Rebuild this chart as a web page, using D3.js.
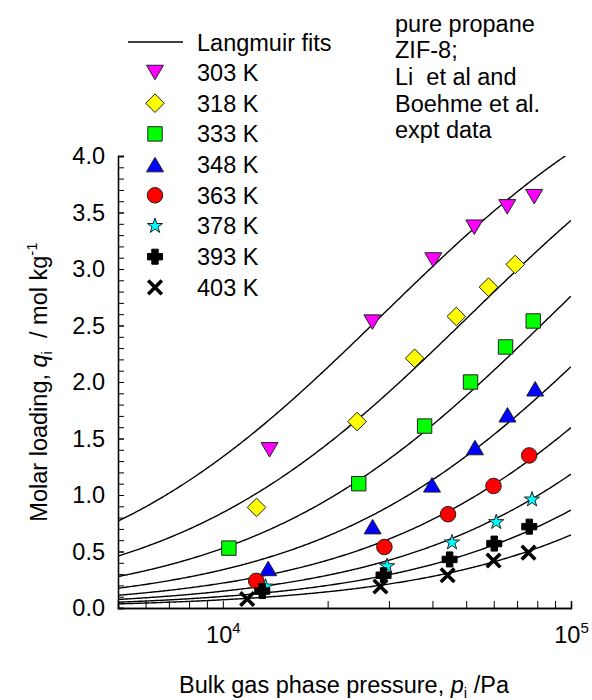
<!DOCTYPE html>
<html>
<head>
<meta charset="utf-8">
<script src="https://cdn.jsdelivr.net/npm/d3@7"></script>
<style>
  html, body { margin: 0; padding: 0; background: #fff; }
  svg { display: block; font-family: "Liberation Sans", Arial, Helvetica, sans-serif; }
</style>
</head>
<body>
<svg id="chart" width="592" height="700"></svg>
<script>
// Propane in ZIF-8: measured loadings (mol/kg) against bulk pressure (Pa)
const temperatures = ["303 K", "318 K", "333 K", "348 K", "363 K", "378 K", "393 K", "403 K"];

const p303 = [13620, 26890, 40230, 52770, 65600, 78400];
const q303 = [1.40, 2.53, 3.08, 3.37, 3.55, 3.64];
const p318 = [12500, 24300, 35560, 46840, 57960, 69150];
const q318 = [0.89, 1.65, 2.21, 2.58, 2.84, 3.04];
const p333 = [10410, 24570, 37980, 51460, 64870, 77900];
const q333 = [0.53, 1.10, 1.61, 2.00, 2.31, 2.54];
const p348 = [13500, 26930, 39890, 53000, 65700, 78900];
const q348 = [0.35, 0.72, 1.09, 1.42, 1.71, 1.94];
const p363 = [12470, 29110, 44340, 59900, 75850];
const q363 = [0.24, 0.54, 0.83, 1.08, 1.35];
const p378 = [13260, 29630, 45520, 61000, 77270];
const q378 = [0.19, 0.37, 0.58, 0.76, 0.96];
const p393 = [12980, 28950, 44810, 60200, 75880];
const q393 = [0.15, 0.29, 0.43, 0.57, 0.72];
const p403 = [11750, 28350, 44220, 59900, 75500];
const q403 = [0.08, 0.19, 0.29, 0.42, 0.49];

// Single-site Langmuir fit parameters, one pair per temperature
const langmuirQsat = [5.2, 5.2, 5.2, 5.2, 5.2, 5.2, 5.2, 5.2];        // mol/kg
const langmuirB = [3.465e-5, 1.938e-5, 1.131e-5, 6.97e-6, 4.43e-6, 2.95e-6, 2.0e-6, 1.42e-6]; // 1/Pa

// Marker styling per temperature
const markerShapes = ["triangleDown", "diamond", "square", "triangleUp", "circle", "star", "cross", "times"];
const markerFills = ["#ff00ff", "#ffff00", "#00ff00", "#0000ff", "#ff0000", "#00ffff", "#000000", "none"];

// Axis ticks
const yMajorTicks = [0, 0.5, 1.0, 1.5, 2.0, 2.5, 3.0, 3.5, 4.0];
const yMinorTicks = d3.range(0, 41).map(i => i / 10);
const xMajorTicks = [1e4, 1e5];
const xMinorTicks = [6000, 7000, 8000, 9000, 20000, 30000, 40000, 50000, 60000, 70000, 80000, 90000];
const xTickExponents = ["4", "5"];

const pressures = [p303, p318, p333, p348, p363, p378, p393, p403];
const loadings = [q303, q318, q333, q348, q363, q378, q393, q403];

const svg = d3.select("#chart");
const FONT = 23.5;
const SMALL = 15;

const x = d3.scaleLog().domain([5000, 1e5]).range([118, 571]);
const y = d3.scaleLinear().domain([0, 4]).range([608, 156]);

// Marker path builders, each centred on its bounding box
function markerPath(shape) {
  switch (shape) {
    case "triangleDown": { const w = 17, h = 14.5;
      return `M${-w/2},${-h/2}L${w/2},${-h/2}L0,${h/2}Z`; }
    case "triangleUp": { const w = 17, h = 14.5;
      return `M${-w/2},${h/2}L${w/2},${h/2}L0,${-h/2}Z`; }
    case "diamond": { const r = 9.3;
      return `M0,${-r}L${r},0L0,${r}L${-r},0Z`; }
    case "square": { const s = 7.2;
      return `M${-s},${-s}H${s}V${s}H${-s}Z`; }
    case "circle": return d3.symbol(d3.symbolCircle, 190)();
    case "star": return d3.symbol(d3.symbolStar, 72)();
    case "cross": { const a = 7.5, b = 3.2;
      return `M${-b},${-a}H${b}V${-b}H${a}V${b}H${b}V${a}H${-b}V${b}H${-a}V${-b}H${-b}Z`; }
    case "times": { const r = 6.8;
      return `M${-r},${-r}L${r},${r}M${-r},${r}L${r},${-r}`; }
  }
}
function styleMarker(sel, i) {
  const shape = markerShapes[i];
  if (shape === "times") {
    sel.attr("fill", "none").attr("stroke", "#000").attr("stroke-width", 3.6);
  } else if (shape === "cross") {
    sel.attr("fill", "#000").attr("stroke", "#000").attr("stroke-width", 1);
  } else {
    sel.attr("fill", markerFills[i]).attr("stroke", "#222").attr("stroke-width", 1);
  }
}

// Clip region for fitted curves
svg.append("clipPath").attr("id", "plot-clip")
  .append("rect").attr("x", 118).attr("y", 156).attr("width", 453).attr("height", 452);

// Langmuir fit curves
const pGrid = d3.range(0, 301).map(k => 5000 * Math.pow(20, k / 300));
const line = d3.line().x(d => x(d[0])).y(d => y(d[1]));
const curves = svg.append("g").attr("clip-path", "url(#plot-clip)");
temperatures.forEach((t, i) => {
  const pts = pGrid.map(p => {
    const bp = langmuirB[i] * p;
    return [p, langmuirQsat[i] * bp / (1 + bp)];
  });
  curves.append("path").attr("d", line(pts))
    .attr("fill", "none").attr("stroke", "#000").attr("stroke-width", 1.4);
});

// Axes: ticks point inward
const yAxisMinor = d3.axisLeft(y).tickValues(yMinorTicks).tickSize(-6).tickFormat("");
const yAxisMajor = d3.axisLeft(y).tickValues(yMajorTicks).tickSize(-6).tickPadding(13)
  .tickFormat(d3.format(".1f"));
const xAxisMinor = d3.axisBottom(x).tickValues(xMinorTicks).tickSize(-7).tickFormat("");
const xAxisMajor = d3.axisBottom(x).tickValues(xMajorTicks).tickSize(-7).tickFormat("");

function styleAxis(g) {
  g.selectAll("path.domain").attr("stroke", "#000").attr("stroke-width", 1.3);
  g.selectAll(".tick line").attr("stroke", "#000").attr("stroke-width", 1);
  g.selectAll("text").attr("font-size", FONT).attr("fill", "#000")
    .attr("font-family", "Liberation Sans, Arial, sans-serif");
}

svg.append("g").attr("transform", "translate(118,0)").call(yAxisMinor).call(styleAxis);
svg.append("g").attr("transform", "translate(118,0)").call(yAxisMajor).call(styleAxis);
svg.append("g").attr("transform", "translate(0,608)").call(xAxisMinor).call(styleAxis);
const xg = svg.append("g").attr("transform", "translate(0,608)").call(xAxisMajor).call(styleAxis);

// Power-of-ten labels on the pressure axis
xg.selectAll(".tick").each(function(d, i) {
  const t = d3.select(this).append("text")
    .attr("y", 35).attr("text-anchor", "middle")
    .attr("font-size", FONT).attr("fill", "#000");
  t.append("tspan").text("10");
  t.append("tspan").attr("font-size", SMALL).attr("dy", -10).text(xTickExponents[i]);
});

// Experimental points
temperatures.forEach((t, i) => {
  const g = svg.append("g");
  pressures[i].forEach((p, k) => {
    g.append("path")
      .attr("d", markerPath(markerShapes[i]))
      .attr("transform", `translate(${x(p)},${y(loadings[i][k])})`)
      .call(styleMarker, i);
  });
});

// Legend
const legend = svg.append("g");
legend.append("line").attr("x1", 128).attr("x2", 183).attr("y1", 42).attr("y2", 42)
  .attr("stroke", "#000").attr("stroke-width", 1.4);
legend.append("text").attr("x", 197).attr("y", 50.5).attr("font-size", FONT).text("Langmuir fits");
temperatures.forEach((t, i) => {
  const cy = 72.5 + i * 30.7;
  legend.append("path").attr("d", markerPath(markerShapes[i]))
    .attr("transform", `translate(155,${cy})`).call(styleMarker, i);
  legend.append("text").attr("x", 197).attr("y", cy + 8.4).attr("font-size", FONT).text(t);
});

// Annotation block
const noteLines = ["pure propane", "ZIF-8;", "Li\u00a0 et al and", "Boehme et al.", "expt data"];
const note = svg.append("text").attr("font-size", FONT).attr("fill", "#000");
noteLines.forEach((s, i) => {
  note.append("tspan").attr("x", 395).attr("y", 31.5 + i * 26.7).text(s);
});

// Axis titles
const xTitle = svg.append("text").attr("x", 344).attr("y", 693)
  .attr("text-anchor", "middle").attr("font-size", FONT);
xTitle.append("tspan").text("Bulk gas phase pressure, ");
xTitle.append("tspan").attr("font-style", "italic").text("p");
xTitle.append("tspan").attr("font-size", SMALL).attr("dy", 5).text("i");
xTitle.append("tspan").attr("dy", -5).text(" /Pa");

const yTitle = svg.append("text").attr("transform", "translate(47,382) rotate(-90)")
  .attr("text-anchor", "middle").attr("font-size", FONT);
yTitle.append("tspan").text("Molar loading, ");
yTitle.append("tspan").attr("font-style", "italic").text("q");
yTitle.append("tspan").attr("font-size", SMALL).attr("dy", 5).text("i");
yTitle.append("tspan").attr("dy", -5).text("\u00a0 / mol kg");
yTitle.append("tspan").attr("font-size", SMALL).attr("dy", -10).text("-1");
</script>
</body>
</html>
